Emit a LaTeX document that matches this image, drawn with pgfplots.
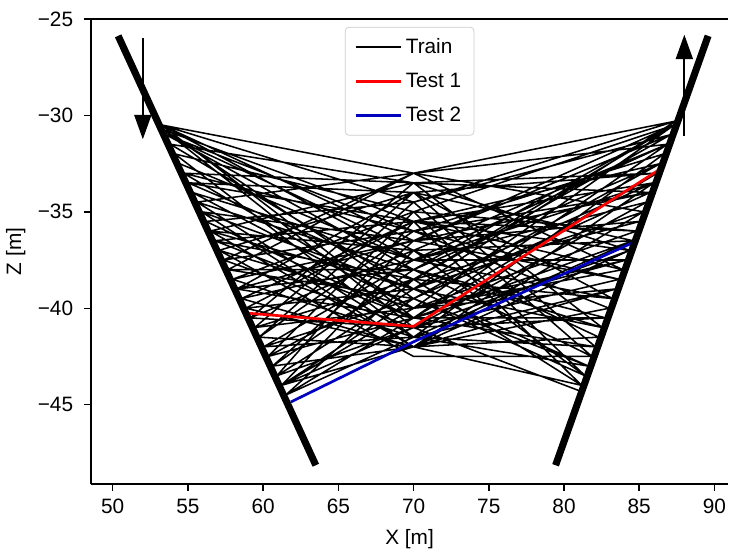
\documentclass[border=0pt]{standalone}
\usepackage{pgfplots}
\pgfplotsset{compat=1.18}
\usepackage{fontspec}
\setmainfont{Liberation Sans}
\usetikzlibrary{arrows.meta}
\begin{document}
\begin{tikzpicture}
\begin{axis}[
  name=ax,
  scale only axis,
  width=352.6pt, height=257.4pt,
  xmin=48.55, xmax=90.92,
  ymin=-49.12, ymax=-25,
  axis y line*=left,
  axis x line*=box,
  axis line style={line width=0.8pt},
  xtick={50,55,60,65,70,75,80,85,90},
  ytick={-45,-40,-35,-30,-25},
  yticklabels={−45,−40,−35,−30,−25},
  xtick pos=bottom, ytick pos=left,
  tick align=outside,
  major tick length=3.85pt,
  tick style={line width=0.8pt, black},
  /pgf/number format/assume math mode=true,
  ticklabel style={font=\fontsize{11.5}{13}\selectfont},
  yticklabel style={xshift=-2.5pt},
  xticklabel style={yshift=-1pt},
  xlabel={X [m]}, ylabel={Z [m]},
  label style={font=\fontsize{11.5}{13}\selectfont},
  xlabel style={yshift=-1.5pt},
  unbounded coords=jump,
  clip=true,
  legend style={at={(0.5,1)}, anchor=north, yshift=-4.4pt, draw=black!20, rounded corners=2pt, fill=white, font=\fontsize{11.5}{13}\selectfont, inner xsep=5pt, inner ysep=4pt, row sep=5.5pt},
  legend cell align=left,
  legend image code/.code={\draw[#1] (0pt,0pt) -- (25pt,0pt);},
]
\addplot[black, line width=0.85pt] coordinates {
(53.24,-30.5) (70,-33.0) (87.42,-30.3) (nan,nan)
(53.24,-30.5) (70,-34.5) (87.10,-31.0) (nan,nan)
(53.38,-30.75) (70,-35.5) (85.96,-33.5) (nan,nan)
(53.24,-30.5) (70,-36.5) (87.33,-30.5) (nan,nan)
(53.53,-31.0) (70,-38.0) (86.41,-32.5) (nan,nan)
(53.38,-30.75) (70,-39.5) (85.73,-34.0) (nan,nan)
(53.53,-31.0) (70,-37.0) (84.59,-36.5) (nan,nan)
(53.24,-30.5) (70,-40.5) (86.87,-31.5) (nan,nan)
(53.83,-31.5) (70,-33.5) (84.37,-37.0) (nan,nan)
(53.38,-30.75) (70,-41.0) (83.68,-38.5) (nan,nan)
(54.12,-32.0) (70,-35.0) (87.33,-30.5) (nan,nan)
(54.71,-33.0) (70,-33.5) (86.19,-33.0) (nan,nan)
(54.71,-33.0) (70,-36.0) (83.00,-40.0) (nan,nan)
(55.01,-33.5) (70,-38.5) (87.10,-31.0) (nan,nan)
(54.71,-33.0) (70,-40.0) (84.82,-36.0) (nan,nan)
(55.01,-33.5) (70,-34.0) (82.09,-42.0) (nan,nan)
(55.30,-34.0) (70,-37.5) (85.50,-34.5) (nan,nan)
(55.60,-34.5) (70,-33.0) (83.91,-38.0) (nan,nan)
(55.60,-34.5) (70,-41.5) (86.64,-32.0) (nan,nan)
(55.89,-35.0) (70,-36.5) (85.05,-35.5) (nan,nan)
(55.89,-35.0) (70,-39.0) (81.63,-43.0) (nan,nan)
(56.19,-35.5) (70,-34.5) (87.42,-30.3) (nan,nan)
(56.19,-35.5) (70,-40.5) (84.14,-37.5) (nan,nan)
(56.48,-36.0) (70,-33.5) (82.54,-41.0) (nan,nan)
(56.48,-36.0) (70,-37.0) (86.87,-31.5) (nan,nan)
(56.48,-36.0) (70,-42.0) (83.45,-39.0) (nan,nan)
(56.78,-36.5) (70,-35.5) (84.82,-36.0) (nan,nan)
(56.78,-36.5) (70,-38.5) (81.18,-44.0) (nan,nan)
(57.07,-37.0) (70,-34.0) (86.19,-33.0) (nan,nan)
(57.07,-37.0) (70,-40.0) (87.33,-30.5) (nan,nan)
(57.37,-37.5) (70,-36.0) (83.68,-38.5) (nan,nan)
(57.37,-37.5) (70,-41.0) (85.50,-34.5) (nan,nan)
(57.66,-38.0) (70,-33.0) (85.28,-35.0) (nan,nan)
(57.66,-38.0) (70,-38.0) (82.77,-40.5) (nan,nan)
(57.66,-38.0) (70,-39.5) (86.41,-32.5) (nan,nan)
(57.96,-38.5) (70,-35.0) (81.40,-43.5) (nan,nan)
(57.96,-38.5) (70,-41.5) (84.59,-36.5) (nan,nan)
(58.25,-39.0) (70,-36.5) (87.10,-31.0) (nan,nan)
(58.25,-39.0) (70,-34.0) (83.23,-39.5) (nan,nan)
(58.25,-39.0) (70,-40.5) (82.09,-42.0) (nan,nan)
(58.55,-39.5) (70,-37.5) (85.96,-33.5) (nan,nan)
(58.55,-39.5) (70,-42.0) (83.00,-40.0) (nan,nan)
(58.84,-40.0) (70,-35.5) (84.37,-37.0) (nan,nan)
(58.84,-40.0) (70,-39.0) (87.42,-30.3) (nan,nan)
(59.14,-40.5) (70,-33.5) (85.73,-34.0) (nan,nan)
(59.14,-40.5) (70,-41.0) (81.09,-44.3) (nan,nan)
(59.14,-40.5) (70,-37.0) (82.32,-41.5) (nan,nan)
(59.44,-41.0) (70,-38.5) (85.05,-35.5) (nan,nan)
(59.44,-41.0) (70,-40.0) (83.91,-38.0) (nan,nan)
(59.73,-41.5) (70,-34.5) (81.86,-42.5) (nan,nan)
(59.73,-41.5) (70,-36.0) (86.64,-32.0) (nan,nan)
(59.73,-41.5) (70,-42.0) (84.37,-37.0) (nan,nan)
(60.03,-42.0) (70,-39.5) (81.63,-43.0) (nan,nan)
(60.03,-42.0) (70,-37.5) (86.87,-31.5) (nan,nan)
(60.03,-42.0) (70,-41.5) (83.45,-39.0) (nan,nan)
(60.32,-42.5) (70,-35.0) (84.82,-36.0) (nan,nan)
(60.32,-42.5) (70,-40.5) (86.19,-33.0) (nan,nan)
(60.62,-43.0) (70,-38.0) (82.54,-41.0) (nan,nan)
(60.62,-43.0) (70,-42.0) (81.18,-44.0) (nan,nan)
(60.62,-43.0) (70,-36.5) (83.68,-38.5) (nan,nan)
(60.91,-43.5) (70,-39.0) (85.28,-35.0) (nan,nan)
(60.91,-43.5) (70,-41.0) (82.77,-40.5) (nan,nan)
(61.21,-44.0) (70,-40.0) (84.14,-37.5) (nan,nan)
(61.21,-44.0) (70,-37.0) (81.40,-43.5) (nan,nan)
(61.21,-44.0) (70,-42.0) (85.96,-33.5) (nan,nan)
(61.50,-44.5) (70,-38.5) (83.23,-39.5) (nan,nan)
(61.50,-44.5) (70,-41.5) (82.09,-42.0) (nan,nan)
(61.50,-44.5) (70,-40.5) (84.59,-36.5) (nan,nan)
(61.21,-44.0) (70,-39.5) (81.40,-43.5) (nan,nan)
(53.53,-31.0) (70,-36.0) (85.73,-34.0) (nan,nan)
(53.83,-31.5) (70,-39.0) (82.54,-41.0) (nan,nan)
(54.42,-32.5) (70,-37.5) (84.14,-37.5) (nan,nan)
(54.12,-32.0) (70,-41.5) (81.63,-43.0) (nan,nan)
(55.30,-34.0) (70,-40.0) (83.45,-39.0) (nan,nan)
(55.60,-34.5) (70,-38.0) (87.33,-30.5) (nan,nan)
(55.89,-35.0) (70,-42.0) (82.32,-41.5) (nan,nan)
(56.78,-36.5) (70,-40.5) (82.77,-40.5) (nan,nan)
(57.07,-37.0) (70,-42.5) (81.86,-42.5) (nan,nan)
(57.37,-37.5) (70,-33.0) (86.87,-31.5) (nan,nan)
(57.96,-38.5) (70,-36.5) (85.73,-34.0) (nan,nan)
(58.55,-39.5) (70,-35.5) (83.91,-38.0) (nan,nan)
(58.84,-40.0) (70,-42.0) (85.28,-35.0) (nan,nan)
(59.44,-41.0) (70,-34.0) (84.59,-36.5) (nan,nan)
(60.32,-42.5) (70,-38.5) (87.33,-30.5) (nan,nan)
(60.91,-43.5) (70,-35.5) (86.41,-32.5) (nan,nan)
(61.21,-44.0) (70,-41.0) (84.37,-37.0) (nan,nan)
(53.24,-30.5) (70,-37.5) (83.23,-39.5) (nan,nan)
(55.01,-33.5) (70,-35.5) (81.18,-44.0) (nan,nan)
(56.48,-36.0) (70,-39.0) (85.96,-33.5) (nan,nan)
(58.25,-39.0) (70,-38.0) (81.86,-42.5)
};
\addlegendentry{Train}
\addplot[red, line width=1.5pt] coordinates {(59.02,-40.26) (70,-40.94) (86.23,-32.87)};
\addlegendentry{Test 1}
\addplot[blue!75!black, line width=1.5pt] coordinates {(61.84,-44.86) (70,-41.74) (84.78,-36.53)};
\addlegendentry{Test 2}
% wells
\addplot[forget plot, black, line width=3.9pt] coordinates {(50.36,-25.88) (63.5,-48.14)};
\addplot[forget plot, black, line width=3.9pt] coordinates {(89.58,-25.88) (79.44,-48.14)};
% arrows
\addplot[forget plot, black, line width=1.1pt, -{Triangle[length=13.5pt,width=9.4pt]}] coordinates {(52,-25.98) (52,-31.24)};
\addplot[forget plot, black, line width=1.1pt, -{Triangle[length=13.5pt,width=9.4pt]}] coordinates {(88,-31.07) (88,-25.82)};
\end{axis}
\path ([yshift=10.45pt]ax.north west) ([xshift=-49.9pt]ax.south west);
\end{tikzpicture}
\end{document}
